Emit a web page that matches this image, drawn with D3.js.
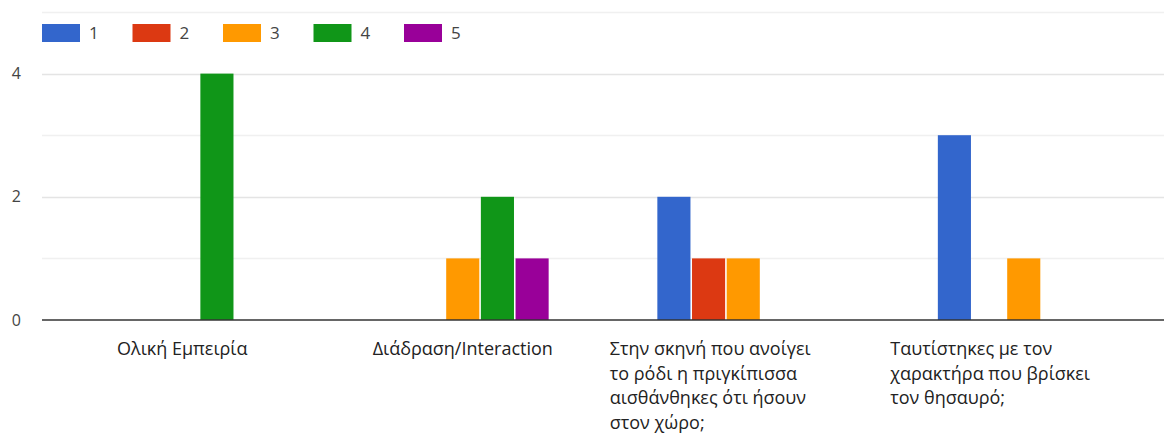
<!DOCTYPE html>
<html>
<head>
<meta charset="utf-8">
<script src="https://cdn.jsdelivr.net/npm/d3@7"></script>
<style>
  body { margin: 0; background: #fff; }
  svg { display: block; font-family: "Open Sans", "Noto Sans", sans-serif; }
</style>
</head>
<body>
<div id="chart"></div>
<script>
// data
const categories = [
  "Ολική Εμπειρία",
  "Διάδραση/Interaction",
  "Στην σκηνή που ανοίγει το ρόδι η πριγκίπισσα αισθάνθηκες ότι ήσουν στον χώρο;",
  "Ταυτίστηκες με τον χαρακτήρα που βρίσκει τον θησαυρό;"
];
const seriesNames = ["1", "2", "3", "4", "5"];
const values1 = [0, 0, 2, 3];
const values2 = [0, 0, 1, 0];
const values3 = [0, 1, 1, 1];
const values4 = [4, 2, 0, 0];
const values5 = [0, 1, 0, 0];
const yTicks = [0, 2, 4];
const colors = ["#3366cc", "#dc3912", "#ff9900", "#109618", "#990099"];

const series = [values1, values2, values3, values4, values5];

const width = 1168;
const height = 436;
const plot = { left: 42, right: 1164, top: 12, bottom: 320 };

const svg = d3.select("#chart")
  .append("svg")
  .attr("width", width)
  .attr("height", height);

const x0 = d3.scaleBand()
  .domain(d3.range(categories.length))
  .range([plot.left, plot.right])
  .paddingInner(0.3875)
  .paddingOuter(0.19375);

const x1 = d3.scaleBand()
  .domain(d3.range(seriesNames.length))
  .range([0, x0.bandwidth()])
  .paddingInner(0.045);

const y = d3.scaleLinear()
  .domain([0, 5])
  .range([plot.bottom, plot.top]);

// gridlines (every unit), labels only on even ticks
svg.append("g")
  .selectAll("line")
  .data(d3.range(1, 6))
  .join("line")
  .attr("x1", plot.left)
  .attr("x2", plot.right)
  .attr("y1", (d) => Math.round(y(d)) + 0.5)
  .attr("y2", (d) => Math.round(y(d)) + 0.5)
  .attr("stroke", (d) => (d % 2 === 0 ? "#e4e4e4" : "#f0f0f0"))
  .attr("stroke-width", 1.5);

svg.append("g")
  .selectAll("text")
  .data(yTicks)
  .join("text")
  .attr("x", 21)
  .attr("y", (d) => y(d))
  .attr("dy", "0.35em")
  .attr("text-anchor", "end")
  .attr("fill", "#444")
  .attr("font-size", 16)
  .text((d) => d);

// bars
const rows = [];
categories.forEach((c, ci) => {
  series.forEach((vals, si) => {
    if (vals[ci] > 0) rows.push({ ci, si, v: vals[ci] });
  });
});

svg.append("g")
  .selectAll("rect")
  .data(rows)
  .join("rect")
  .attr("x", (d) => x0(d.ci) + x1(d.si))
  .attr("y", (d) => y(d.v))
  .attr("width", x1.bandwidth())
  .attr("height", (d) => y(0) - y(d.v))
  .attr("fill", (d) => colors[d.si]);

// baseline
svg.append("line")
  .attr("x1", plot.left)
  .attr("x2", plot.right)
  .attr("y1", y(0))
  .attr("y2", y(0))
  .attr("stroke", "#333")
  .attr("stroke-width", 1.5);

// category labels, wrapped
const wrapWidth = 212;
const boxWidth = 267;
const lineHeight = 24.5;
const labels = svg.append("g")
  .attr("font-size", 18)
  .attr("fill", "#222");

categories.forEach((c, ci) => {
  const t = labels.append("text").attr("y", 355);
  const words = c.split(" ");
  let lines = [];
  let cur = [];
  const probe = t.append("tspan");
  words.forEach((w) => {
    const test = cur.concat([w]).join(" ");
    probe.text(test);
    if (probe.node().getComputedTextLength() > wrapWidth && cur.length) {
      lines.push(cur.join(" "));
      cur = [w];
    } else {
      cur.push(w);
    }
  });
  lines.push(cur.join(" "));
  probe.remove();
  const cx = x0(ci) + x0.bandwidth() / 2;
  let left;
  if (lines.length === 1) {
    t.text(lines[0]);
    left = cx - t.node().getComputedTextLength() / 2;
    t.text("");
  } else {
    left = cx - boxWidth / 2;
  }
  lines.forEach((ln, i) => {
    t.append("tspan")
      .attr("x", left)
      .attr("dy", i === 0 ? 0 : lineHeight)
      .text(ln);
  });
});

// legend
const legend = svg.append("g")
  .selectAll("g")
  .data(seriesNames)
  .join("g")
  .attr("transform", (d, i) => `translate(${42 + i * 90.5},24)`);

legend.append("rect")
  .attr("width", 38)
  .attr("height", 18)
  .attr("fill", (d, i) => colors[i]);

legend.append("text")
  .attr("x", 47)
  .attr("y", 9)
  .attr("dy", "0.35em")
  .attr("fill", "#444")
  .attr("font-size", 17)
  .text((d) => d);
</script>
</body>
</html>
